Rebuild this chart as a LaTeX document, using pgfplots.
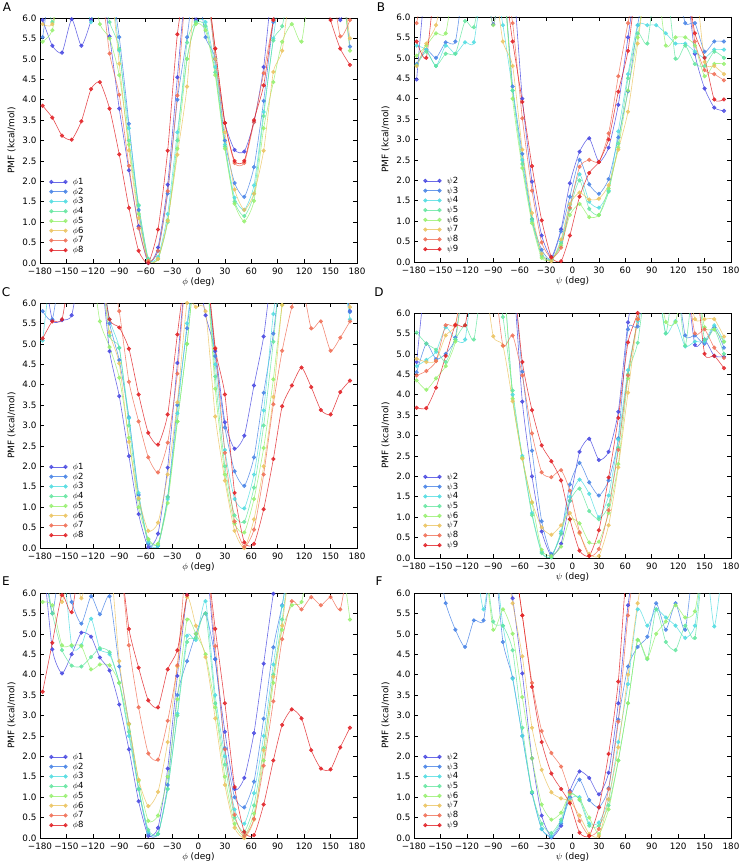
\documentclass[border=0pt]{standalone}
\usepackage{fontspec}
\setmainfont{DejaVu Sans}
\usepackage{pgfplots}
\usepackage{pgfplotstable}
\pgfplotsset{compat=1.18}

\definecolor{c1}{RGB}{70,70,225}
\definecolor{c2}{RGB}{70,130,230}
\definecolor{c3}{RGB}{80,220,225}
\definecolor{c4}{RGB}{100,230,160}
\definecolor{c5}{RGB}{150,240,110}
\definecolor{c6}{RGB}{235,195,95}
\definecolor{c7}{RGB}{240,110,85}
\definecolor{c8}{RGB}{225,30,35}

\pgfplotscreateplotcyclelist{rb}{
{c1,mark=*},{c2,mark=*},{c3,mark=*},{c4,mark=*},{c5,mark=*},{c6,mark=*},{c7,mark=*},{c8,mark=*}}

\pgfplotsset{
 pmf/.style={
  scale only axis, width=317pt, height=245pt,
  anchor=south west,
  xmin=-180, xmax=180, ymin=0, ymax=6,
  xtick={-180,-150,-120,-90,-60,-30,0,30,60,90,120,150,180},
  xticklabels={−180,−150,−120,−90,−60,−30,0,30,60,90,120,150,180},
  ytick={0,0.5,1,1.5,2,2.5,3,3.5,4,4.5,5,5.5,6},
  yticklabels={0.0,0.5,1.0,1.5,2.0,2.5,3.0,3.5,4.0,4.5,5.0,5.5,6.0},
  tick align=inside, major tick length=4pt,
  tick style={black, line width=0.6pt},
  axis line style={line width=0.8pt},
  ticklabel style={font=\fontsize{8.8}{10}\selectfont},
  xticklabel style={yshift=-1.5pt},
  label style={font=\fontsize{9}{10}\selectfont},
  xlabel style={yshift=4pt},
  ylabel={PMF (kcal/mol)},
  cycle list name=rb,
  every axis plot/.append style={line width=0.6pt, mark size=1.8pt, opacity=0.8, smooth, tension=0.35},
  legend style={at={(0.02,0.025)}, anchor=south west, draw=none, fill=none,
    font=\fontsize{8.5}{8.5}\selectfont, row sep=0.8pt, nodes={inner sep=0.6pt},
    /tikz/every odd column/.append style={column sep=5pt}},
  legend cell align=left,
  legend image code/.code={\draw[mark repeat=2,mark phase=1,#1] plot coordinates {(0cm,0cm) (0.25cm,0cm) (0.5cm,0cm)};},
 }
}

\pgfplotstableread{
x a b c d e f g h
-177 5.95 5.53 7 7 5.42 5.85 7 3.85
-166 5.32 7 7 5.9 5.7 5.85 7 3.56
-155 5.15 7 7 7 7 7 7 3.12
-144 5.97 7 7 7 7 7 7 3.02
-133 5.32 7 7 7 7 7 7 3.47
-122 5.95 7 5.9 7 7 7 7 4.26
-112 7 7 7 7 5.85 7 7 4.43
-101 5.55 7 7 5.9 5.5 7 5.13 3.78
-90 3.78 5.53 5.2 5.24 4.6 4.88 4.12 2.66
-79 2.27 3.41 3.3 3.0 2.9 2.76 2.38 1.35
-68 0.9 1.3 1.4 1.42 1.2 1.1 0.85 0.30
-57 0.0 0.05 0.1 0.1 0.05 0.05 0.05 0.0
-46 0.38 0.3 0.15 0.1 0.1 0.1 0.3 0.82
-35 1.92 1.7 1.2 1.0 1.05 1.03 1.76 2.75
-24 4.55 4.0 3.2 3.0 2.8 2.65 4.1 5.6
-13 7 5.53 5.0 5.4 5.0 4.32 7 7
-3 5.95 7 5.9 5.9 5.85 7 7 7
8 7 5.53 5.9 5.8 5.7 7 7 7
19 5.0 5.0 4.8 4.67 4.6 5.0 5.25 5.25
30 3.43 3.0 2.9 2.85 2.8 3.2 3.43 3.43
41 2.77 1.96 1.6 1.5 1.45 1.8 2.45 2.5
52 2.73 1.62 1.3 1.15 1.02 1.3 2.45 2.5
63 3.45 2.35 1.9 1.7 1.52 1.7 3.45 3.5
74 4.8 3.97 3.7 3.6 3.3 2.75 4.65 4.35
85 7 5.9 5.5 5.45 4.43 4.68 5.95 5.95
95 7 7 7 5.8 5.42 5.2 7 7
106 7 7 7 7 5.85 7 7 7
117 7 7 7 7 5.42 7 7 7
128 7 7 7 7 7 7 7 7
139 7 7 7 7 7 7 7 7
150 7 7 7 7 7 7 7 5.95
161 5.95 7 7 7 7 7 5.55 5.25
172 7 5.3 7 7 5.2 5.5 5.95 4.85
}\tabA

\pgfplotstableread{
x a b c d e f g h
-177 4.47 4.85 5.3 4.82 5.05 4.8 5.85 5.4
-166 7 5.2 5.2 5.15 5.3 5.35 7 5.0
-155 7 5.0 4.8 4.8 5.6 5.8 7 7
-144 7 5.38 5.3 5.1 5.6 7 7 7
-133 7 5.4 5.1 5.1 7 7 7 7
-122 7 7 5.38 5.9 7 7 7 7
-112 7 7 5.38 5.75 7 7 7 7
-101 7 7 7 7 7 7 7 7
-90 5.82 7 7 7 5.8 7 7 7
-79 7 7 5.8 7 7 5.4 7 7
-68 7 4.3 4.2 4.2 4.0 4.8 5.85 5.4
-57 4.0 2.65 2.5 2.4 2.3 2.75 3.52 3.92
-46 1.97 1.05 1.0 1.05 0.95 1.2 1.75 2.35
-35 0.65 0.3 0.2 0.15 0.1 0.2 0.48 1.02
-24 0.12 0.05 0.05 0.05 0.05 0.02 0.1 0.12
-13 0.8 0.75 0.5 0.45 0.4 0.55 0.35 0.02
-3 1.93 1.6 1.4 1.3 1.15 1.42 1.33 0.65
8 2.7 2.5 2.15 2.0 1.42 1.7 2.33 1.6
19 3.03 1.9 1.48 1.3 1.1 1.53 2.5 2.18
30 2.45 1.67 1.33 1.15 1.15 1.55 2.45 2.45
41 2.8 2.03 1.75 1.72 1.8 1.88 3.15 3.0
52 3.85 3.05 3.2 2.9 2.8 2.75 4.55 4.17
63 5.5 4.18 4.6 4.5 4.2 3.68 5.85 5.17
74 7 5.8 5.8 5.6 5.5 5.35 7 7
85 7 7 5.8 5.35 7 7 7 7
95 7 7 5.8 7 7 7 7 7
106 7 7 5.6 7 5.3 7 7 7
117 7 7 5.35 4.98 5.5 7 7 7
128 7 5.85 5.35 5.3 5.5 7 7 7
139 5.1 5.85 5.15 4.85 5.3 7 5.4 5.6
150 4.25 5.15 5.0 4.8 4.55 4.9 4.7 5.0
161 3.78 5.4 5.2 5.15 4.85 4.8 4.6 3.98
172 3.7 5.4 5.2 5.0 4.85 4.6 4.45 3.98
}\tabB

\pgfplotstableread{
x a b c d e f g h
-177 7 5.8 5.08 7 7 7 7 5.13
-166 5.58 5.6 7 7 7 7 7 5.55
-155 5.58 7 7 7 7 7 7 5.6
-144 5.7 7 7 7 7 7 7 7
-133 7 7 7 7 7 7 7 7
-122 7 7 7 7 7 7 7 7
-112 7 7 7 7 5.55 7 7 7
-101 4.82 5.5 5.6 5.2 4.92 5.28 7 5.6
-90 3.72 4.6 4.9 4.9 4.17 4.52 5.8 5.4
-79 2.25 3.2 3.18 3.0 2.7 2.6 4.07 4.88
-68 0.83 1.3 1.35 1.2 1.0 1.22 3.1 3.76
-57 0.02 0.1 0.15 0.2 0.22 0.42 2.22 2.82
-46 0.35 0.05 0.05 0.1 0.1 0.62 1.85 2.53
-35 1.97 1.25 1.2 1.25 1.1 1.8 2.58 3.27
-24 4.53 3.5 3.3 3.1 3.1 3.57 4.27 5.23
-13 7 5.38 5.5 5.0 5.0 6.0 7 7
-3 7 7 7 7 7 5.9 7 7
8 5.7 7 7 7 7 5.8 7 7
19 4.82 4.7 4.5 4.2 3.9 3.22 4.9 4.88
30 3.08 2.95 2.4 2.0 1.8 1.65 2.33 3.76
41 2.43 1.88 1.2 0.8 0.6 0.42 0.65 1.35
52 2.75 1.52 0.97 0.64 0.38 0.0 0.03 0.14
63 3.98 2.22 1.8 1.48 1.2 0.7 0.45 0.1
74 5.18 3.8 3.37 3.0 2.45 2.0 1.8 0.95
85 7 5.25 5.73 5.05 4.13 3.7 3.52 2.18
95 7 7 7 7 5.95 5.95 4.83 3.47
106 7 7 7 7 7 7 5.9 3.98
117 7 7 7 7 7 7 6.5 4.42
128 7 7 7 7 7 7 5.38 3.94
139 7 7 7 7 7 7 5.55 3.38
150 7 7 7 7 7 7 4.83 3.27
161 7 7 7 7 7 7 5.15 3.82
172 5.8 5.78 5.6 7 7 5.9 5.55 4.1
}\tabC

\pgfplotstableread{
x a b c d e f g h
-177 4.8 4.55 4.7 5.52 4.35 4.88 4.47 3.68
-166 7 5.25 4.85 5.25 4.12 4.8 4.58 3.67
-155 7 4.87 5.05 5.1 4.4 4.83 4.82 4.17
-144 7 5.0 5.65 4.8 4.7 5.45 5.7 4.95
-133 7 5.4 5.35 5.35 5.3 5.7 5.72 5.7
-122 7 7 5.35 5.7 7 7 7 5.7
-112 7 7 7 5.35 7 7 7 7
-101 7 7 7 7 7 7 7 7
-90 7 7 7 7 7 5.43 7 7
-79 7 7 7 5.9 7 5.2 5.2 7
-68 7 7 4.0 4.1 3.9 3.84 5.45 7
-57 3.83 4.56 2.5 2.45 2.45 2.43 4.47 4.8
-46 2.0 2.63 1.1 1.05 1.35 1.37 3.05 3.62
-35 0.65 0.9 0.15 0.12 0.2 0.75 2.1 2.76
-24 0.05 0.1 0.02 0.02 0.05 0.57 1.98 2.37
-13 0.35 0.6 0.65 0.6 0.28 0.8 2.15 1.9
-3 1.4 1.8 1.5 1.4 0.95 1.1 1.65 0.95
8 2.6 2.33 1.92 1.7 0.85 0.6 0.63 0.18
19 2.92 1.85 1.57 1.15 0.38 0.1 0.05 0.05
30 2.4 1.53 1.0 0.95 0.4 0.05 0.22 0.68
41 2.6 1.9 1.53 1.3 1.1 0.8 1.17 1.97
52 3.58 2.93 2.9 2.7 2.3 2.22 2.65 3.43
63 5.77 5.6 4.6 4.5 4.4 4.05 4.47 5.28
74 7 5.67 5.8 5.27 5.85 5.85 5.85 6.0
85 7 7 7 7 7 7 7 7
95 7 7 7 7 7 7 7 7
106 7 7 5.5 5.5 5.78 7 7 7
117 7 7 5.8 7 5.78 7 7 7
128 7 5.45 5.18 5.2 7 7 7 7
139 5.22 5.45 5.3 7 7 5.85 5.5 7
150 5.35 5.25 5.3 5.35 5.65 5.85 5.6 5.0
161 4.95 5.65 5.7 5.6 5.6 5.85 5.15 4.95
172 4.93 5.15 5.3 5.0 5.3 5.42 4.9 4.65
}\tabD

\pgfplotstableread{
x a b c d e f g h
-177 7 7 7 7 5.78 7 7 3.58
-166 4.62 5.5 7 5.5 5.7 7 7 4.78
-155 4.03 7 7 4.6 4.72 5.78 7 5.95
-144 4.5 5.78 4.7 4.22 4.72 7 7 5.53
-133 5.03 5.25 4.72 4.2 4.7 5.87 7 7
-122 4.93 5.92 5.37 4.43 4.13 7 7 7
-112 4.42 5.48 4.62 4.65 4.25 7 7 7
-101 4.1 5.92 4.5 4.55 4.23 7 7 7
-90 3.27 4.2 3.8 3.8 3.8 4.33 7 7
-79 2.17 2.8 2.5 2.6 2.78 2.8 4.72 5.12
-68 0.9 1.2 1.2 1.2 1.4 1.43 3.2 4.17
-57 0.05 0.1 0.15 0.2 0.42 0.78 2.07 3.37
-46 0.25 0.1 0.1 0.1 0.55 1.13 1.92 3.2
-35 1.7 1.3 1.2 1.2 1.5 2.35 2.87 4.13
-24 3.97 3.5 3.05 3.0 3.4 4.2 4.23 4.6
-13 5.95 4.33 4.95 4.8 5.35 5.9 7 5.95
-3 7 5.0 4.85 4.9 5.0 5.2 7 7
8 7 5.5 5.8 5.5 4.5 4.43 7 7
19 4.38 4.38 3.5 3.3 3.2 2.93 4.7 5.12
30 2.6 2.2 2.0 1.8 1.5 1.3 2.17 3.3
41 1.2 1.0 0.7 0.5 0.35 0.25 0.57 1.25
52 1.47 0.75 0.35 0.15 0.05 0.0 0.05 0.15
63 2.57 1.38 1.1 0.8 0.6 0.45 0.47 0.07
74 4.27 2.92 2.5 2.2 1.9 2.15 1.77 0.82
85 5.98 4.67 4.25 4.0 3.8 3.95 3.35 1.9
95 7 5.7 5.68 5.35 5.1 5.2 4.87 2.77
106 7 7 7 7 5.7 7 5.8 3.15
117 7 7 7 7 5.78 7 5.6 2.93
128 7 7 7 7 7 7 5.9 2.15
139 7 7 7 7 7 7 5.7 1.7
150 7 7 7 7 7 7 5.9 1.68
161 7 7 7 7 7 7 5.6 2.22
172 7 7 7 7 5.35 7 7 2.7
}\tabE

\pgfplotstableread{
x a b c d e f g h
-177 7 7 7 7 7 7 7 7
-166 7 7 7 7 7 7 7 7
-155 7 7 7 7 7 7 7 7
-144 7 5.75 7 7 7 7 7 7
-133 7 5.1 7 7 7 7 7 7
-122 7 4.68 7 7 7 7 7 7
-112 7 5.33 7 7 7 7 7 7
-101 7 5.33 5.6 7 7 7 7 7
-90 7 7 7 5.3 5.1 7 7 7
-79 7 4.8 5.2 5.2 5.6 7 7 7
-68 5.87 3.92 3.9 4.6 5.0 5.75 7 7
-57 4.03 2.5 2.5 2.7 3.45 4.45 5.45 5.45
-46 1.95 1.1 1.12 1.13 1.95 2.7 3.8 3.7
-35 0.55 0.22 0.22 0.35 0.82 1.67 2.62 2.35
-24 0.02 0.02 0.05 0.12 0.45 1.12 2.08 1.58
-13 0.3 0.35 0.4 0.45 0.62 0.97 1.75 1.2
-3 1.15 1.0 0.95 1.1 1.08 0.9 1.12 0.85
8 1.63 1.43 1.0 0.93 0.95 0.55 0.42 0.13
19 1.47 0.93 0.35 0.3 0.5 0.1 0.05 0.05
30 1.07 0.75 0.38 0.3 0.1 0.05 0.22 0.75
41 1.6 1.22 0.95 0.8 0.7 0.95 1.2 2.06
52 3.3 2.9 2.35 1.9 1.9 2.22 2.85 3.83
63 5.7 4.2 3.77 3.3 3.3 4.0 5.45 7
74 7 4.68 5.6 4.85 4.85 5.75 7 7
85 7 4.93 5.2 4.38 4.4 7 7 7
95 7 5.75 5.6 5.6 5.0 7 7 7
106 7 5.1 5.4 4.8 5.3 7 7 7
117 7 5.75 5.2 4.6 5.7 7 7 7
128 7 5.1 4.9 5.2 5.4 7 7 7
139 7 7 5.2 4.9 5.55 7 7 7
150 7 7 7 7 7 7 7 7
161 7 7 5.18 7 7 7 7 7
172 7 7 7 7 7 7 7 7
}\tabF

\begin{document}
\begin{tikzpicture}
\useasboundingbox (0pt,0pt) rectangle (742pt,863pt);

% A
\begin{axis}[pmf, at={(40pt,600pt)}, xlabel={$\phi$ (deg)},
  legend entries={$\phi$1,$\phi$2,$\phi$3,$\phi$4,$\phi$5,$\phi$6,$\phi$7,$\phi$8}]
\foreach \c in {a,b,c,d,e,f,g,h}{\addplot table[x=x,y=\c]{\tabA};}
\end{axis}
% B
\begin{axis}[pmf, at={(414pt,601pt)}, xlabel={$\psi$ (deg)},
  legend entries={$\psi$2,$\psi$3,$\psi$4,$\psi$5,$\psi$6,$\psi$7,$\psi$8,$\psi$9}]
\foreach \c in {a,b,c,d,e,f,g,h}{\addplot table[x=x,y=\c]{\tabB};}
\end{axis}
% C
\begin{axis}[pmf, at={(40pt,315pt)}, xlabel={$\phi$ (deg)},
  legend entries={$\phi$1,$\phi$2,$\phi$3,$\phi$4,$\phi$5,$\phi$6,$\phi$7,$\phi$8}]
\foreach \c in {a,b,c,d,e,f,g,h}{\addplot table[x=x,y=\c]{\tabC};}
\end{axis}
% D
\begin{axis}[pmf, at={(414pt,305pt)}, xlabel={$\psi$ (deg)},
  legend entries={$\psi$2,$\psi$3,$\psi$4,$\psi$5,$\psi$6,$\psi$7,$\psi$8,$\psi$9}]
\foreach \c in {a,b,c,d,e,f,g,h}{\addplot table[x=x,y=\c]{\tabD};}
\end{axis}
% E
\begin{axis}[pmf, at={(40pt,25pt)}, xlabel={$\phi$ (deg)},
  legend entries={$\phi$1,$\phi$2,$\phi$3,$\phi$4,$\phi$5,$\phi$6,$\phi$7,$\phi$8}]
\foreach \c in {a,b,c,d,e,f,g,h}{\addplot table[x=x,y=\c]{\tabE};}
\end{axis}
% F
\begin{axis}[pmf, at={(414pt,25pt)}, xlabel={$\psi$ (deg)},
  legend entries={$\psi$2,$\psi$3,$\psi$4,$\psi$5,$\psi$6,$\psi$7,$\psi$8,$\psi$9}]
\foreach \c in {a,b,c,d,e,f,g,h}{\addplot table[x=x,y=\c]{\tabF};}
\end{axis}

\node[font=\fontsize{12}{12}\selectfont] at (7pt,856pt) {A};
\node[font=\fontsize{12}{12}\selectfont] at (381pt,856pt) {B};
\node[font=\fontsize{12}{12}\selectfont] at (6pt,571pt) {C};
\node[font=\fontsize{12}{12}\selectfont] at (379pt,571pt) {D};
\node[font=\fontsize{12}{12}\selectfont] at (6pt,282pt) {E};
\node[font=\fontsize{12}{12}\selectfont] at (379pt,282pt) {F};
\end{tikzpicture}
\end{document}
